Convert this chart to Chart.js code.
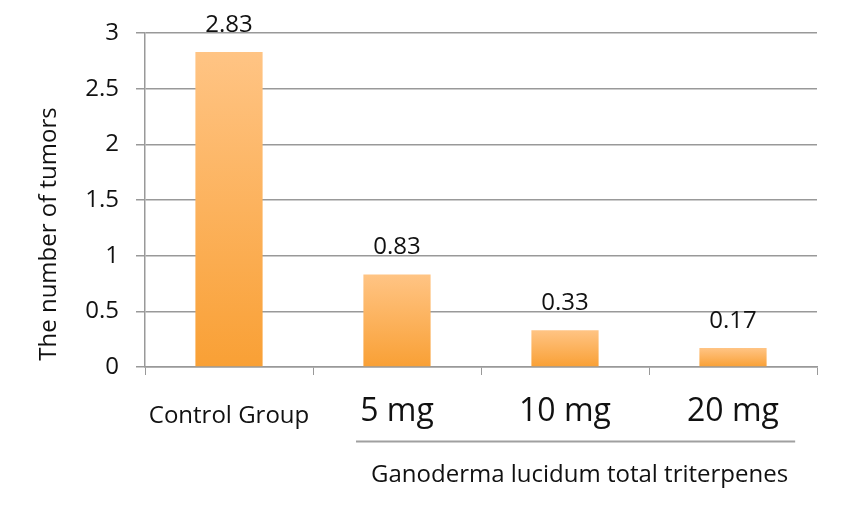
<!DOCTYPE html>
<html>
<head>
<meta charset="utf-8">
<script src="https://cdn.jsdelivr.net/npm/chart.js@4"></script>
<style>
  html, body { margin: 0; padding: 0; background: #fff; }
  #wrap { width: 850px; height: 510px; }
</style>
</head>
<body>
<div id="wrap"><canvas id="c" width="850" height="510"></canvas></div>
<script>
const categories = ['Control Group', '5 mg', '10 mg', '20 mg'];
const tumorCounts = [2.83, 0.83, 0.33, 0.17];
const groupTitle = 'Ganoderma lucidum total triterpenes';
const yTitle = 'The number of tumors';
const yMax = 3;
const yStep = 0.5;

const FONT = '"Open Sans", "Noto Sans", sans-serif';

function barGradient(ctx) {
  const chart = ctx.chart;
  if (!chart.chartArea || ctx.type !== 'data') return '#fbb060';
  const y = chart.scales.y;
  const top = y.getPixelForValue(ctx.raw);
  const bottom = y.getPixelForValue(0);
  const g = chart.ctx.createLinearGradient(0, top, 0, bottom);
  g.addColorStop(0, '#ffc484');
  g.addColorStop(1, '#f9a035');
  return g;
}

const valueLabels = {
  id: 'valueLabels',
  afterDatasetsDraw(chart) {
    const c = chart.ctx;
    const meta = chart.getDatasetMeta(0);
    c.save();
    c.font = '24px ' + FONT;
    c.fillStyle = '#111';
    c.textAlign = 'center';
    c.textBaseline = 'middle';
    meta.data.forEach((bar, i) => {
      c.fillText(tumorCounts[i].toFixed(2), bar.x, bar.y - 27);
    });
    c.restore();
  }
};

// bracket under the three dose groups, its caption, and the y title
const extras = {
  id: 'extras',
  afterDraw(chart) {
    const x = chart.scales.x;
    const c = chart.ctx;
    const x0 = x.getPixelForValue(0.756);
    const x1 = x.getPixelForValue(3.37);
    c.save();
    c.strokeStyle = '#a0a0a0';
    c.lineWidth = 2;
    c.beginPath();
    c.moveTo(x0, 441.5);
    c.lineTo(x1, 441.5);
    c.stroke();
    c.font = '24px ' + FONT;
    c.fillStyle = '#111';
    c.textAlign = 'center';
    c.textBaseline = 'middle';
    c.fillText(groupTitle, (x0 + x1) / 2 + 4, 475);

    c.translate(49, 234);
    c.rotate(-Math.PI / 2);
    c.font = '24px ' + FONT;
    c.fillText(yTitle, 0, 0);
    c.restore();
  }
};

new Chart(document.getElementById('c'), {
  type: 'bar',
  data: {
    labels: categories,
    datasets: [{
      data: tumorCounts,
      backgroundColor: barGradient,
      borderWidth: 0,
      barPercentage: 0.4,
      categoryPercentage: 1.0
    }]
  },
  options: {
    responsive: false,
    animation: false,
    devicePixelRatio: 1,
    layout: { padding: { top: 33, right: 33, left: 0, bottom: 0 } },
    plugins: { legend: { display: false }, tooltip: { enabled: false } },
    scales: {
      x: {
        afterFit: s => { s.height = 143; },
        grid: { display: true, drawOnChartArea: false, drawTicks: true, tickLength: 8, color: '#999', offset: true },
        border: { display: true, color: '#999', width: 1.5 },
        ticks: {
          color: '#111',
          padding: 18,
          font: ctx => ctx.index === 0
            ? { family: FONT, size: 24, lineHeight: 1.9 }
            : { family: FONT, size: 32, lineHeight: 1.2 }
        }
      },
      y: {
        min: 0,
        max: yMax,
        afterFit: s => { s.width = 145; },
        grid: { color: '#999', lineWidth: 1.5, tickLength: 9 },
        border: { display: true, color: '#999', width: 1.5 },
        ticks: {
          stepSize: yStep,
          color: '#111',
          padding: 17,
          font: { family: FONT, size: 24 },
          callback: v => String(v)
        }
      }
    }
  },
  plugins: [valueLabels, extras]
});
</script>
</body>
</html>
